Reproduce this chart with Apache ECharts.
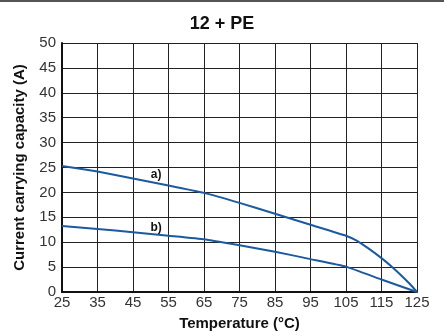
<!DOCTYPE html>
<html>
<head>
<meta charset="utf-8">
<script src="https://cdn.jsdelivr.net/npm/echarts@6/dist/echarts.min.js"></script>
<style>
	html, body { margin: 0; padding: 0; background: #fff; }
	#chart { width: 444px; height: 336px; }
</style>
</head>
<body>
<div id="chart"></div>
<script>
	// 温度 / 电流数据
	var tempA = [25, 35, 45, 55, 65, 75, 85, 95, 105, 108, 111, 115, 118, 121, 123, 125];
	var curveA = [25.3, 24.2, 22.8, 21.4, 19.9, 17.9, 15.7, 13.5, 11.3, 10.3, 8.9, 6.8, 5.0, 3.0, 1.6, 0];
	var tempB = [25, 35, 45, 55, 65, 75, 85, 95, 105, 115, 125];
	var curveB = [13.25, 12.65, 12.0, 11.3, 10.6, 9.4, 8.1, 6.6, 5.1, 2.5, 0];
	var xTicks = [25, 35, 45, 55, 65, 75, 85, 95, 105, 115, 125];
	var yTicks = [0, 5, 10, 15, 20, 25, 30, 35, 40, 45, 50];

	function pairs(xs, ys) {
		var out = [];
		for (var i = 0; i < xs.length; i++) {
			out.push([xs[i], ys[i]]);
		}
		return out;
	}

	var chart = echarts.init(document.getElementById('chart'));
	var lineColor = '#1b5aa0';
	var font = '"Liberation Sans", Arial, sans-serif';

	chart.setOption({
		animation: false,
		textStyle: { fontFamily: font },
		title: {
			text: '12 + PE',
			left: 'center',
			top: 10,
			textStyle: { fontSize: 18, fontWeight: 'bold', color: '#111', fontFamily: font }
		},
		graphic: [{
			type: 'rect',
			shape: { x: 0, y: 0, width: 444, height: 2 },
			style: { fill: '#555' }
		}],
		grid: { left: 62, right: 27, top: 43, bottom: 44, outerBoundsMode: 'none', containLabel: false },
		xAxis: {
			type: 'value',
			min: xTicks[0],
			max: xTicks[xTicks.length - 1],
			interval: 10,
			name: 'Temperature (°C)',
			nameLocation: 'middle',
			nameGap: 24,
			nameTextStyle: { fontSize: 15, fontWeight: 'bold', color: '#111' },
			axisLine: { lineStyle: { color: '#111', width: 2 } },
			axisTick: { show: false },
			axisLabel: { fontSize: 15, color: '#333', margin: 3 },
			splitLine: { show: true, lineStyle: { color: '#222', width: 1 } }
		},
		yAxis: {
			type: 'value',
			min: yTicks[0],
			max: yTicks[yTicks.length - 1],
			interval: 5,
			name: 'Current carrying capacity (A)',
			nameLocation: 'middle',
			nameGap: 35,
			nameTextStyle: { fontSize: 15, fontWeight: 'bold', color: '#111' },
			axisLine: { show: true, lineStyle: { color: '#111', width: 2 } },
			axisTick: { show: false },
			axisLabel: { fontSize: 15, color: '#333', margin: 6 },
			splitLine: { show: true, lineStyle: { color: '#222', width: 1 } }
		},
		series: [{
				name: 'a)',
				type: 'line',
				data: pairs(tempA, curveA),
				smooth: 0.15,
				symbol: 'none',
				lineStyle: { color: lineColor, width: 2 },
				markPoint: {
					symbol: 'circle',
					symbolSize: 0,
					data: [{ coord: [51.5, 23.6] }],
					label: { show: true, formatter: 'a)', fontSize: 12, fontWeight: 'bold', color: '#111', position: 'inside' }
				}
			},
			{
				name: 'b)',
				type: 'line',
				data: pairs(tempB, curveB),
				smooth: 0.1,
				symbol: 'none',
				lineStyle: { color: lineColor, width: 2 },
				markPoint: {
					symbol: 'circle',
					symbolSize: 0,
					data: [{ coord: [51.5, 13.0] }],
					label: { show: true, formatter: 'b)', fontSize: 12, fontWeight: 'bold', color: '#111', position: 'inside' }
				}
			}
		]
	});
</script>
</body>
</html>
